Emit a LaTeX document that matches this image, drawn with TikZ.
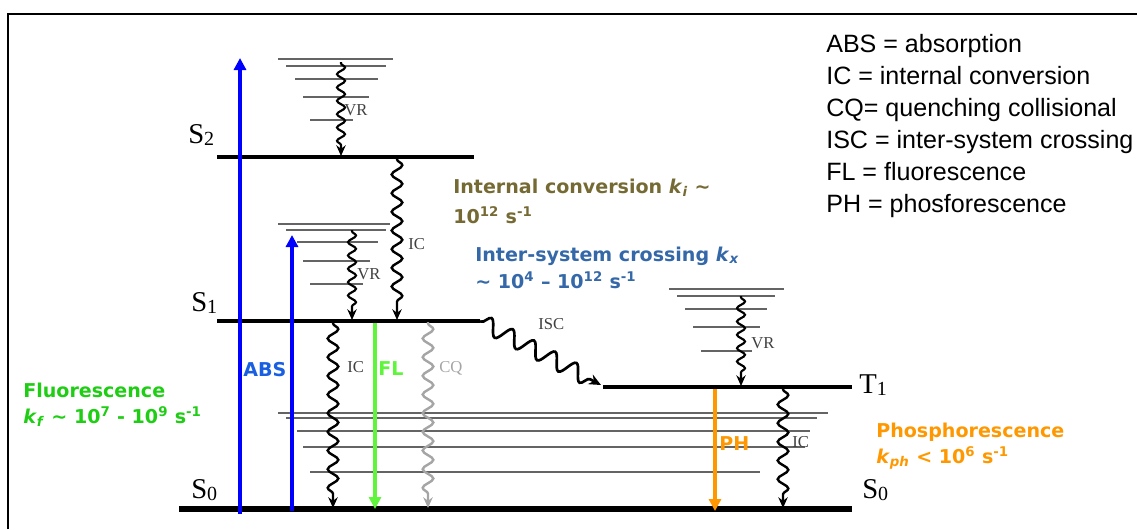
\documentclass[tikz,border=0pt]{standalone}
\usepackage{fontspec}
\setmainfont{Liberation Sans}
\newfontfamily\dvs{DejaVu Sans}
\newfontfamily\serf{Liberation Serif}
\usetikzlibrary{arrows.meta,decorations.pathmorphing}
\definecolor{olivetxt}{RGB}{118,106,52}
\definecolor{isctxt}{RGB}{52,104,168}
\definecolor{fltxt}{RGB}{30,205,20}
\definecolor{flarrow}{RGB}{95,245,60}
\definecolor{phtxt}{RGB}{255,152,0}
\definecolor{abstxt}{RGB}{25,95,225}
\definecolor{sublvl}{RGB}{100,100,100}
\definecolor{cqgray}{RGB}{165,165,165}
\newcommand{\kk}[1]{\textbf{\textit{k}}\textsubscript{\textbf{\textit{#1}}}}
\begin{document}
\begin{tikzpicture}[x=0.75pt,y=-0.75pt,
  level/.style={line width=3.6pt,black},
  s0level/.style={line width=4.2pt,black},
  sub/.style={line width=1.3pt,sublvl},
  wavy/.style={decorate,decoration={snake,amplitude=4pt,segment length=14pt,pre length=1pt,post length=7pt},line width=1.8pt,-{Stealth[length=8pt,width=7pt]}},
  vrwavy/.style={decorate,decoration={snake,amplitude=3pt,segment length=10pt,pre length=1pt,post length=7pt},line width=1.6pt,-{Stealth[length=8pt,width=7pt]}},
  iscwavy/.style={decorate,decoration={snake,amplitude=6pt,segment length=18pt,pre length=1pt,post length=7pt},line width=2pt,-{Stealth[length=9pt,width=8pt]}},
  radarrow/.style={line width=3.4pt,-{Triangle[length=9pt,width=9pt]}},
  lab/.style={font=\serf\fontsize{12.5}{12.5}\selectfont,text=black!75,inner sep=0pt,anchor=base west},
  slab/.style={font=\serf\fontsize{21.5}{21.5}\selectfont,inner sep=0pt,anchor=base west},
  blab/.style={font=\dvs\bfseries\fontsize{14.3}{14.3}\selectfont,inner sep=0pt,anchor=base west},
  legend/.style={font=\fontsize{18.8}{18.8}\selectfont,inner sep=0pt,anchor=base west}]
\useasboundingbox (0,0) rectangle (1137,529);
% frame
\draw[line width=2.2pt] (8,529) -- (8,14) -- (1137,14);

% vibrational sublevels S2
\draw[sub] (278,59) -- (393,59);
\draw[sub] (286,66) -- (386,66);
\draw[sub] (295,79) -- (378,79);
\draw[sub] (303,97) -- (369,97);
\draw[sub] (310,120) -- (353,120);
% vibrational sublevels S1
\draw[sub] (278,224) -- (390,224);
\draw[sub] (286,230) -- (386,230);
\draw[sub] (297,242) -- (378,242);
\draw[sub] (303,261) -- (370,261);
\draw[sub] (310,284) -- (363,284);
% vibrational sublevels T1
\draw[sub] (669,289) -- (784,289);
\draw[sub] (677,296) -- (775,296);
\draw[sub] (685,309) -- (767,309);
\draw[sub] (693,327) -- (760,327);
\draw[sub] (701,351) -- (752,351);
% vibrational sublevels S0
\draw[sub] (278,413) -- (828,413);
\draw[sub] (286,418) -- (817,418);
\draw[sub] (297,431) -- (810,431);
\draw[sub] (303,447) -- (805,447);
\draw[sub] (310,472) -- (760,472);

% electronic levels
\draw[level] (217,157) coordinate (S2a) -- (474,157) coordinate (S2b);
\draw[level] (217,321) coordinate (S1a) -- (480,321) coordinate (S1b);
\draw[level] (603,387) coordinate (T1a) -- (852,387) coordinate (T1b);
\draw[s0level] (179,509) coordinate (S0a) -- (852,509) coordinate (S0b);

% level labels
\node[slab] (lS2) at (188,143) {S\raisebox{-1.5pt}{\fontsize{15}{15}\selectfont 2}};
\node[slab] (lS1) at (191,311) {S\raisebox{-1.5pt}{\fontsize{15}{15}\selectfont 1}};
\node[slab] (lS0) at (191,498) {S\raisebox{-1.5pt}{\fontsize{15}{15}\selectfont 0}};
\node[slab] (lT1) at (859,393) {T\raisebox{-1.5pt}{\fontsize{15}{15}\selectfont 1}};
\node[slab] (lS0r) at (862,498) {S\raisebox{-1.5pt}{\fontsize{15}{15}\selectfont 0}};

% coordinates for transitions
\coordinate (vr2a) at (341,62);  \coordinate (vr2b) at (341,156);
\coordinate (vr1a) at (352,230); \coordinate (vr1b) at (352,320);
\coordinate (ic21a) at (397,158); \coordinate (ic21b) at (397,320);
\coordinate (ic10a) at (333,322); \coordinate (ic10b) at (333,508);
\coordinate (cqa) at (428,322); \coordinate (cqb) at (428,508);
\coordinate (isca) at (480,321); \coordinate (iscb) at (601,385);
\coordinate (vrta) at (741,296); \coordinate (vrtb) at (741,386);
\coordinate (icta) at (783,388); \coordinate (ictb) at (783,508);
\coordinate (fla) at (375,323); \coordinate (flb) at (375,509);
\coordinate (pha) at (715,389); \coordinate (phb) at (715,511);
\coordinate (abs1a) at (240,514); \coordinate (abs1b) at (240,58);
\coordinate (abs2a) at (292,511); \coordinate (abs2b) at (292,235);

% wavy non-radiative transitions
\draw[vrwavy] (vr2a) -- (vr2b);
\draw[vrwavy] (vr1a) -- (vr1b);
\draw[wavy] (ic21a) -- (ic21b);
\draw[wavy] (ic10a) -- (ic10b);
\draw[wavy,cqgray] (cqa) -- (cqb);
\draw[iscwavy] (isca) -- (iscb);
\draw[vrwavy] (vrta) -- (vrtb);
\draw[wavy] (icta) -- (ictb);

% radiative transitions
\draw[radarrow,blue] (abs1a) -- (abs1b);
\draw[radarrow,blue] (abs2a) -- (abs2b);
\draw[radarrow,flarrow,line width=3pt] (fla) -- (flb);
\draw[radarrow,phtxt,line width=3pt] (pha) -- (phb);

% small labels
\node[lab] (tvr2) at (344,115) {VR};
\node[lab] (tvr1) at (357,279) {VR};
\node[lab] (tic21) at (408,249) {IC};
\node[lab] (tic10) at (347,372) {IC};
\node[lab,text=cqgray] (tcq) at (439,372) {CQ};
\node[lab] (tisc) at (538,329) {ISC};
\node[lab] (tvrt) at (751,348) {VR};
\node[lab] (tict) at (792,447) {IC};
\node[blab,text=abstxt] (tabs) at (243,376) {ABS};
\node[blab,text=flarrow] (tfl) at (378,375) {FL};
\node[blab,text=phtxt] (tph) at (719,450) {PH};

% rate texts
\node[blab,text=olivetxt] (ic1) at (453,193) {Internal conversion \kk{i} \textasciitilde};
\node[blab,text=olivetxt] (ic2) at (453,223) {10\textsuperscript{12} s\textsuperscript{-1}};
\node[blab,text=isctxt] (isc1) at (475,261) {Inter-system crossing \kk{x}};
\node[blab,text=isctxt] (isc2) at (475,288) {\textasciitilde\ 10\textsuperscript{4} \textendash\ 10\textsuperscript{12} s\textsuperscript{-1}};
\node[blab,text=fltxt] (fl1) at (23,397) {Fluorescence};
\node[blab,text=fltxt] (fl2) at (23,423) {\kk{f} \textasciitilde\ 10\textsuperscript{7} - 10\textsuperscript{9} s\textsuperscript{-1}};
\node[blab,text=phtxt] (ph1) at (876,437) {Phosphorescence};
\node[blab,text=phtxt] (ph2) at (876,463) {\kk{ph} < 10\textsuperscript{6} s\textsuperscript{-1}};

% legend
\node[legend] (lg1) at (826,52) {ABS = absorption};
\node[legend] (lg2) at (826,84) {IC = internal conversion};
\node[legend] (lg3) at (826,116) {CQ= quenching collisional};
\node[legend] (lg4) at (826,148) {ISC = inter-system crossing};
\node[legend] (lg5) at (826,180) {FL = fluorescence};
\node[legend] (lg6) at (826,212) {PH = phosforescence};
\end{tikzpicture}
\end{document}
